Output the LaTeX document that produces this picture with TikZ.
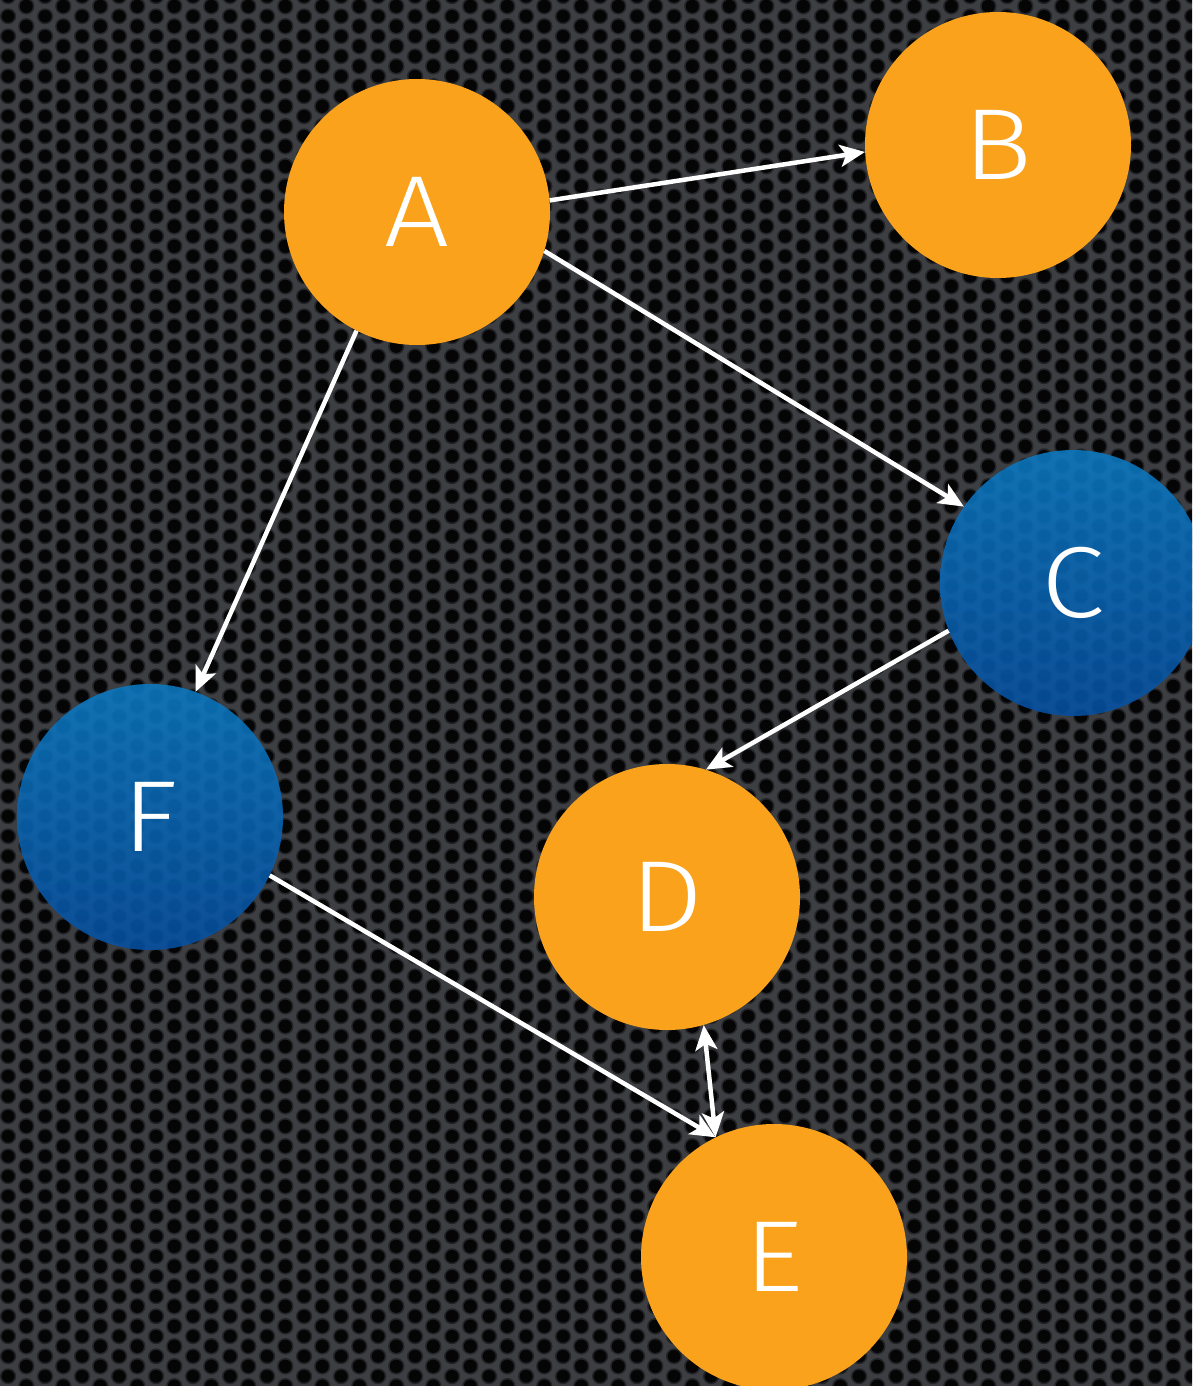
\documentclass[tikz,border=0pt]{standalone}
\usepackage{fontspec}
\setmainfont{Liberation Sans}
\newfontfamily\lightsans[FakeStretch=1.14]{Fira Sans Light}
\usetikzlibrary{arrows.meta,patterns}
\definecolor{bgbase}{HTML}{3D3E42}
\definecolor{bgring}{HTML}{232427}
\definecolor{bghole}{HTML}{050506}
\definecolor{nodeorange}{HTML}{FAA21B}
\definecolor{bluetop}{HTML}{0B7AC2}
\definecolor{bluebot}{HTML}{0650A2}
\pgfdeclarepatterninherentlycolored{perf}{\pgfpointorigin}{\pgfpoint{37.2pt}{20.2pt}}{\pgfpoint{37.2pt}{20.2pt}}{%
  \pgfsetfillcolor{bgbase}%
  \pgfpathrectangle{\pgfpointorigin}{\pgfpoint{37.2pt}{20.2pt}}%
  \pgfusepath{fill}%
  \pgfsetfillcolor{bgring}%
  \pgfpathcircle{\pgfpoint{9.3pt}{10.1pt}}{8.3pt}%
  \pgfpathcircle{\pgfpoint{27.9pt}{0pt}}{8.3pt}%
  \pgfpathcircle{\pgfpoint{27.9pt}{20.2pt}}{8.3pt}%
  \pgfusepath{fill}%
  \pgfsetfillcolor{bghole}%
  \pgfpathcircle{\pgfpoint{9.3pt}{10.1pt}}{6.6pt}%
  \pgfpathcircle{\pgfpoint{27.9pt}{0pt}}{6.6pt}%
  \pgfpathcircle{\pgfpoint{27.9pt}{20.2pt}}{6.6pt}%
  \pgfusepath{fill}%
}
\tikzset{
  vert/.style={circle, minimum size=266pt, inner sep=0pt,
    font=\lightsans\fontsize{101}{101}\selectfont, text=white},
  orangev/.style={vert, fill=nodeorange},
  bluev/.style={vert, top color=bluetop, bottom color=bluebot,
    fill opacity=0.88, text opacity=1},
  edge/.style={draw=white, line width=4.5pt},
  arr/.style={edge, -{Stealth[length=25pt,width=22pt,inset=6pt]}},
  darr/.style={edge, {Stealth[length=25pt,width=22pt,inset=6pt]}-{Stealth[length=25pt,width=22pt,inset=6pt]}}
}
\begin{document}
\begin{tikzpicture}[x=1pt,y=-1pt]
  \path[use as bounding box] (0,0) rectangle (1192,1386);
  \clip (0,0) rectangle (1192,1386);
  \fill[bgbase] (0,0) rectangle (1192,1386);
  \fill[pattern=perf] (0,0) rectangle (1192,1386);
  \node[orangev] (A) at (417,212) {A};
  \node[orangev] (B) at (998,145) {B};
  \node[bluev]   (C) at (1073,583) {C};
  \node[orangev] (D) at (667,897) {D};
  \node[orangev] (E) at (774,1257) {E};
  \node[bluev]   (F) at (150,817) {F};

  \draw[arr] (A.5.4) -- (B.183.7);
  \draw[arr] (A.343.4) -- (C.145.4);
  \draw[arr] (A.243.4) -- (F.70.7);
  \draw[arr] (C.201.2) -- (D.73);
  \draw[arr] (F.334.3) -- (E.116);
  \draw[darr] (D.286.8) -- (E.116.4);
\end{tikzpicture}
\end{document}
